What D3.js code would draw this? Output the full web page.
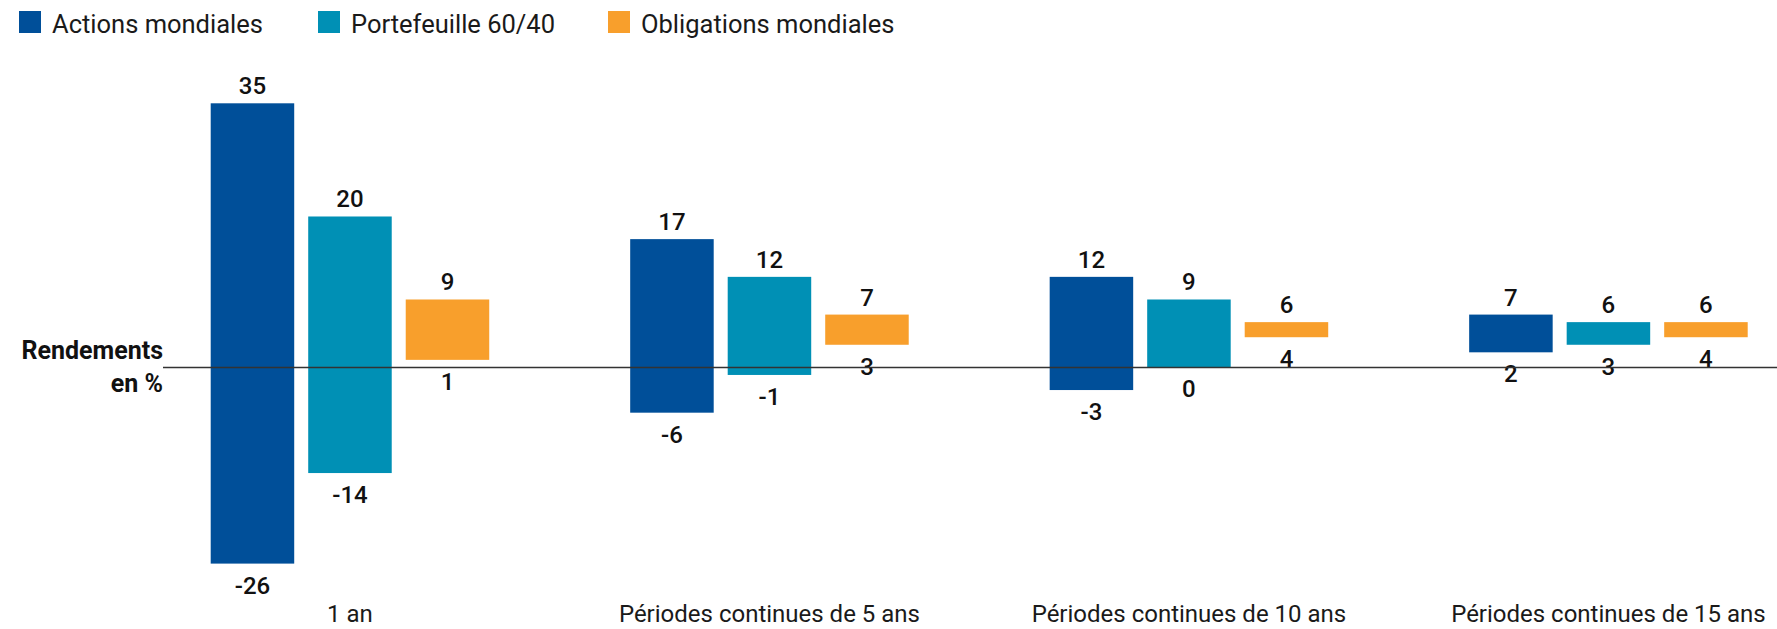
<!DOCTYPE html>
<html lang="fr">
<head>
  <meta charset="UTF-8">
  <title>Rendements en %</title>
  <script src="https://d3js.org/d3.v7.min.js"></script>
  <style>
    body { margin: 0; background: #fff; }
    svg { display: block; font-family: Roboto, "Noto Sans", sans-serif; }
  </style>
</head>
<body>
  <div id="chart"></div>
  <script>
    // categories and series
    const categories = ["1 an", "Périodes continues de 5 ans", "Périodes continues de 10 ans", "Périodes continues de 15 ans"];
    const series = ["Actions mondiales", "Portefeuille 60/40", "Obligations mondiales"];
    const colors = ["#004f99", "#0090b5", "#f89f2c"];

    // highest and lowest return per category, one array per series
    const maxActions = [35, 17, 12, 7];
    const minActions = [-26, -6, -3, 2];
    const maxMixed = [20, 12, 9, 6];
    const minMixed = [-14, -1, 0, 3];
    const maxBonds = [9, 7, 6, 6];
    const minBonds = [1, 3, 4, 4];

    const maxValues = [maxActions, maxMixed, maxBonds];
    const minValues = [minActions, minMixed, minBonds];

    const width = 1777, height = 629;

    const svg = d3.select("#chart").append("svg")
      .attr("width", width)
      .attr("height", height);

    // scales
    const x = d3.scaleBand()
      .domain(categories)
      .range([210.7, 1747.7])
      .paddingInner(0.336)
      .paddingOuter(0);

    const xInner = d3.scaleBand()
      .domain(series)
      .range([0, x.bandwidth()])
      .paddingInner(0.1436)
      .paddingOuter(0);

    const y = d3.scaleLinear()
      .domain([-26, 35])
      .range([563.6, 103.3]);

    // build rows for the bars
    const rows = [];
    categories.forEach((c, i) => {
      series.forEach((s, j) => {
        rows.push({ cat: c, serie: s, idx: j, hi: maxValues[j][i], lo: minValues[j][i] });
      });
    });

    // legend
    const legendX = [19, 318, 608];
    const legend = svg.append("g");
    series.forEach((s, j) => {
      legend.append("rect")
        .attr("x", legendX[j]).attr("y", 11)
        .attr("width", 22).attr("height", 22)
        .attr("fill", colors[j]);
      legend.append("text")
        .attr("x", legendX[j] + 33).attr("y", 33)
        .attr("font-size", 25.5)
        .attr("fill", "#1a1a1a")
        .text(s);
    });

    // bars
    const g = svg.append("g");
    g.selectAll("rect")
      .data(rows)
      .join("rect")
      .attr("x", d => x(d.cat) + xInner(d.serie))
      .attr("y", d => y(d.hi))
      .attr("width", xInner.bandwidth())
      .attr("height", d => y(d.lo) - y(d.hi))
      .attr("fill", d => colors[d.idx]);

    // zero line
    svg.append("line")
      .attr("x1", 163).attr("x2", width)
      .attr("y1", y(0)).attr("y2", y(0))
      .attr("stroke", "#333")
      .attr("stroke-width", 1.5);

    // value labels
    g.selectAll("text.hi")
      .data(rows)
      .join("text")
      .attr("class", "hi")
      .attr("x", d => x(d.cat) + xInner(d.serie) + xInner.bandwidth() / 2)
      .attr("y", d => y(d.hi) - 9)
      .attr("text-anchor", "middle")
      .attr("font-size", 24)
      .attr("font-weight", 500)
      .attr("fill", "#111")
      .text(d => d.hi);

    g.selectAll("text.lo")
      .data(rows)
      .join("text")
      .attr("class", "lo")
      .attr("x", d => x(d.cat) + xInner(d.serie) + xInner.bandwidth() / 2)
      .attr("y", d => y(d.lo) + 30)
      .attr("text-anchor", "middle")
      .attr("font-size", 24)
      .attr("font-weight", 500)
      .attr("fill", "#111")
      .text(d => d.lo);

    // category labels
    svg.append("g").selectAll("text")
      .data(categories)
      .join("text")
      .attr("x", d => x(d) + x.bandwidth() / 2)
      .attr("y", 622)
      .attr("text-anchor", "middle")
      .attr("font-size", 24)
      .attr("fill", "#1a1a1a")
      .text(d => d);

    // axis title
    const title = svg.append("text")
      .attr("x", 163)
      .attr("text-anchor", "end")
      .attr("font-size", 25)
      .attr("font-weight", 700)
      .attr("fill", "#111");
    title.append("tspan").attr("x", 163).attr("y", 358.5).text("Rendements");
    title.append("tspan").attr("x", 163).attr("y", 391.5).text("en %");
  </script>
</body>
</html>
